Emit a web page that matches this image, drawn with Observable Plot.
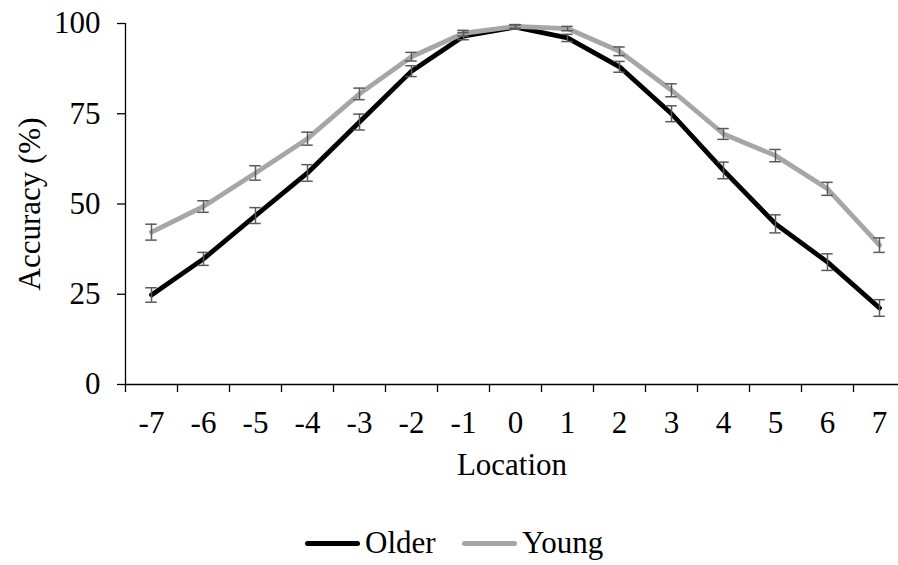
<!DOCTYPE html>
<html>
<head>
<meta charset="utf-8">
<script src="https://cdn.jsdelivr.net/npm/d3@7"></script>
<script src="https://cdn.jsdelivr.net/npm/@observablehq/plot@0.6"></script>
<style>
  html, body { margin: 0; padding: 0; background: #fff; overflow: hidden; }
  #chart { width: 898px; height: 515px; }
  .legend { position: relative; height: 50px; width: 898px;
    font-family: "Liberation Serif", "Times New Roman", serif; font-size: 31px; color: #000; }
  .legend .item { position: absolute; top: 0; height: 56px; display: flex; align-items: center; }
  .legend .sw { width: 55px; height: 5px; border-radius: 3px; margin-right: 5px; }
</style>
</head>
<body>
<div id="chart"></div>
<div class="legend" id="legend"></div>
<script>
const locations = [-7, -6, -5, -4, -3, -2, -1, 0, 1, 2, 3, 4, 5, 6, 7];
const olderValues = [24.8, 34.8, 46.8, 58.6, 72.7, 86.8, 96.5, 99.0, 96.0, 88.0, 75.0, 59.3, 44.5, 33.9, 21.2];
const olderErrors = [2.0, 1.8, 2.2, 2.3, 2.2, 1.5, 1.0, 0.6, 1.0, 1.5, 2.2, 2.3, 2.5, 2.3, 2.3];
const youngValues = [42.2, 49.3, 58.6, 68.1, 80.5, 90.8, 97.3, 99.2, 98.6, 92.3, 81.5, 69.4, 63.4, 54.2, 38.6];
const youngErrors = [2.2, 1.6, 2.0, 1.8, 1.6, 1.2, 0.8, 0.5, 0.6, 1.2, 1.8, 1.5, 1.7, 1.8, 2.0];
const yTicks = [0, 25, 50, 75, 100];
const seriesNames = ["Older", "Young"];
const seriesColors = ["#000000", "#a6a6a6"];

const rows = [];
locations.forEach((x, i) => {
  rows.push({series: "Older", x, v: olderValues[i], e: olderErrors[i]});
});
locations.forEach((x, i) => {
  rows.push({series: "Young", x, v: youngValues[i], e: youngErrors[i]});
});
const bounds = locations.map(x => x - 0.5).concat([locations[locations.length - 1] + 0.5]);
const capHalf = 0.11;
const font = "Liberation Serif, Times New Roman, serif";

const chart = Plot.plot({
  width: 898,
  height: 515,
  marginLeft: 125,
  marginRight: 0,
  marginTop: 23,
  marginBottom: 131,
  style: {fontFamily: font, fontSize: "31px", color: "#000", background: "#fff", overflow: "visible"},
  x: {domain: [-7.5, 7.5], range: [125, 905]},
  y: {domain: [0, 100]},
  color: {domain: seriesNames, range: seriesColors},
  marks: [
    Plot.axisY({ticks: yTicks, tickSize: 8, tickPadding: 17, fontSize: 31, stroke: "#000", strokeWidth: 1.3,
      label: null}),
    Plot.axisX({ticks: bounds, tickSize: 8, tickFormat: () => "", stroke: "#000", strokeWidth: 1.3, label: null}),
    Plot.axisX({ticks: locations, tickSize: 0, tickPadding: 26, fontSize: 31, label: null,
      tickFormat: d => String(d)}),
    Plot.text(["Accuracy (%)"], {frameAnchor: "left", textAnchor: "middle", rotate: -90, dx: -95, fontSize: 31, fill: "#000"}),
    Plot.text(["Location"], {frameAnchor: "bottom", textAnchor: "middle", dy: 90, fontSize: 31, fill: "#000"}),
    Plot.ruleY([0], {stroke: "#000", strokeWidth: 1.3}),
    Plot.ruleX([bounds[0]], {stroke: "#000", strokeWidth: 1.3}),
    Plot.line(rows, {x: "x", y: "v", z: "series", stroke: "series", strokeWidth: 4.8,
      strokeLinejoin: "round", strokeLinecap: "round"}),
    Plot.ruleX(rows, {x: "x", y1: d => d.v - d.e, y2: d => d.v + d.e, stroke: "#595959", strokeWidth: 1.5}),
    Plot.ruleY(rows, {y: d => d.v + d.e, x1: d => d.x - capHalf, x2: d => d.x + capHalf, stroke: "#595959", strokeWidth: 1.5}),
    Plot.ruleY(rows, {y: d => d.v - d.e, x1: d => d.x - capHalf, x2: d => d.x + capHalf, stroke: "#595959", strokeWidth: 1.5})
  ]
});
document.getElementById("chart").appendChild(chart);

const legend = document.getElementById("legend");
const legendLeft = [305, 462];
seriesNames.forEach((name, i) => {
  const item = document.createElement("div");
  item.className = "item";
  item.style.left = legendLeft[i] + "px";
  const sw = document.createElement("span");
  sw.className = "sw";
  sw.style.background = seriesColors[i];
  const label = document.createElement("span");
  label.textContent = name;
  item.appendChild(sw);
  item.appendChild(label);
  legend.appendChild(item);
});
</script>
</body>
</html>
